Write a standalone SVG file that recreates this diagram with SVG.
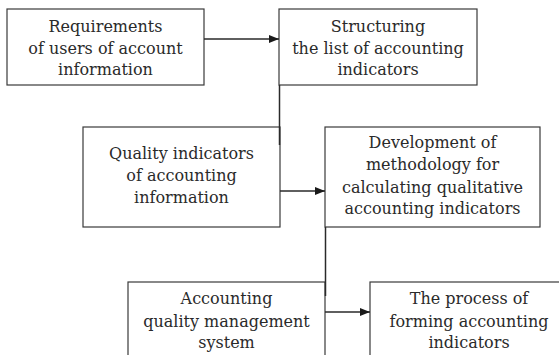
<svg xmlns="http://www.w3.org/2000/svg" width="559" height="355" viewBox="0 0 559 355">
<style>
.box{fill:#fff;stroke:#3a3a3a;stroke-width:1.2}
.con{fill:none;stroke:#2a2a2a;stroke-width:1.5}
text{font-family:"DejaVu Serif",serif;font-size:16px;fill:#2a2a2a;text-anchor:middle}
</style>
<defs>
<marker id="ah" viewBox="0 0 10 8" refX="10" refY="4" markerWidth="10" markerHeight="8" markerUnits="userSpaceOnUse" orient="auto">
<path d="M0,0 L10,4 L0,8 Z" fill="#1a1a1a"/>
</marker>
</defs>
<rect width="559" height="355" fill="#fff"/>
<g id="n1"><rect class="box" x="7" y="9" width="197" height="76"/>
<text x="105.5" y="32">Requirements</text><text x="105.5" y="53.5">of users of account</text><text x="105.5" y="75">information</text></g>
<g id="n2"><rect class="box" x="279" y="9" width="198" height="76"/>
<text x="378" y="32">Structuring</text><text x="378" y="53.5">the list of accounting</text><text x="378" y="75">indicators</text></g>
<g id="n3"><rect class="box" x="83" y="127" width="197" height="100"/>
<text x="181.5" y="159">Quality indicators</text><text x="181.5" y="181">of accounting</text><text x="181.5" y="203">information</text></g>
<g id="n4"><rect class="box" x="325" y="127" width="215" height="100"/>
<text x="432.5" y="148">Development of</text><text x="432.5" y="170">methodology for</text><text x="432.5" y="192.5">calculating qualitative</text><text x="432.5" y="214">accounting indicators</text></g>
<g id="n5"><rect class="box" x="128" y="282" width="197" height="90"/>
<text x="226.5" y="304">Accounting</text><text x="226.5" y="326.5">quality management</text><text x="226.5" y="348">system</text></g>
<g id="n6"><rect class="box" x="370" y="282" width="198" height="90"/>
<text x="469" y="304">The process of</text><text x="469" y="326.5">forming accounting</text><text x="469" y="348">indicators</text></g>
<g id="connectors">
<line class="con" x1="204" y1="39" x2="279" y2="39" marker-end="url(#ah)"/>
<line class="con" x1="279.5" y1="85" x2="279.5" y2="145"/>
<line class="con" x1="280" y1="191" x2="325" y2="191" marker-end="url(#ah)"/>
<line class="con" x1="325.5" y1="227" x2="325.5" y2="296"/>
<line class="con" x1="325" y1="312" x2="370" y2="312" marker-end="url(#ah)"/>
</g>
</svg>
